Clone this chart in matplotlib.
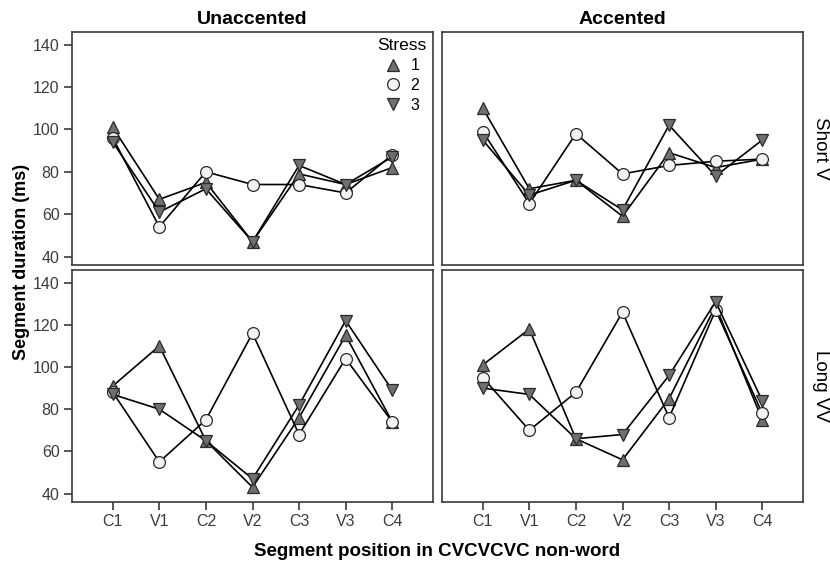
import matplotlib.pyplot as plt

plt.rcParams['font.family'] = ['Liberation Sans', 'DejaVu Sans']

segments = ['C1', 'V1', 'C2', 'V2', 'C3', 'V3', 'C4']
columns = ['Unaccented', 'Accented']
rows = ['Short V', 'Long VV']
stress_levels = ['1', '2', '3']

# values, (row, column) -> stress 1, 2, 3
short_unacc_1 = [101, 67, 75, 47, 79, 74, 82]
short_unacc_2 = [96, 54, 80, 74, 74, 70, 88]
short_unacc_3 = [94, 61, 72, 47, 83, 74, 87]

short_acc_1 = [110, 72, 76, 59, 89, 82, 86]
short_acc_2 = [99, 65, 98, 79, 83, 85, 86]
short_acc_3 = [95, 69, 76, 62, 102, 78, 95]

long_unacc_1 = [91, 110, 65, 43, 76, 115, 74]
long_unacc_2 = [88, 55, 75, 116, 68, 104, 74]
long_unacc_3 = [87, 80, 65, 47, 82, 122, 89]

long_acc_1 = [101, 118, 66, 56, 85, 129, 75]
long_acc_2 = [95, 70, 88, 126, 76, 127, 78]
long_acc_3 = [90, 87, 66, 68, 96, 131, 84]

data = {
    (0, 0): [short_unacc_1, short_unacc_2, short_unacc_3],
    (0, 1): [short_acc_1, short_acc_2, short_acc_3],
    (1, 0): [long_unacc_1, long_unacc_2, long_unacc_3],
    (1, 1): [long_acc_1, long_acc_2, long_acc_3],
}

markers = ['^', 'o', 'v']
fills = ['#6f6f6f', '#f2f2f2', '#6f6f6f']
edge = '#2a2a2a'

W, H = 830, 564
fig = plt.figure(figsize=(W / 100, H / 100), dpi=100)

col_x = [72, 442]
col_w = 361
row_top = [32, 270]
row_h = [233, 232]

x = list(range(1, len(segments) + 1))

for r in range(2):
    for c in range(2):
        left = col_x[c] / W
        bottom = (H - row_top[r] - row_h[r]) / H
        ax = fig.add_axes([left, bottom, col_w / W, row_h[r] / H])
        for s in range(3):
            ax.plot(x, data[(r, c)][s], color='black', lw=1.2,
                    marker=markers[s], markersize=8.5, markerfacecolor=fills[s],
                    markeredgecolor=edge, markeredgewidth=0.9,
                    label=stress_levels[s], zorder=3)
        ax.set_xlim(0.125, 7.875)
        ax.set_ylim(36, 146)
        ax.set_yticks([40, 60, 80, 100, 120, 140])
        ax.set_xticks(x)
        ax.set_xticklabels(segments)
        for sp in ax.spines.values():
            sp.set_color('#3a3a3a')
            sp.set_linewidth(1.2)
        ax.tick_params(direction='out', length=6, width=1.2, color='#3a3a3a',
                       labelsize=11.5, labelcolor='#3c3c3c', pad=3)
        if c == 1:
            ax.tick_params(axis='y', left=False, labelleft=False)
        if r == 0:
            ax.tick_params(axis='x', bottom=False, labelbottom=False)
            ax.set_title(columns[c], fontsize=14, fontweight='bold', pad=6)
        if c == 1:
            ax.text(1.025, 0.5, rows[r], transform=ax.transAxes, rotation=-90,
                    ha='left', va='center', fontsize=13.5)
        if r == 0 and c == 0:
            leg = ax.legend(title='Stress', loc='upper right', frameon=False,
                            fontsize=11.5, title_fontsize=12.5, handlelength=1.0,
                            handletextpad=0.6, labelspacing=0.3,
                            borderaxespad=0.1, borderpad=0.3)
            for h in leg.legend_handles:
                h.set_linestyle('')

fig.text(0.5 * (72 + 803) / W, 1 - 551 / H, 'Segment position in CVCVCVC non-word',
         ha='center', va='center', fontsize=13.5, fontweight='bold')
fig.text(22 / W, 1 - 262 / H, 'Segment duration (ms)', rotation=90,
         ha='center', va='center', fontsize=13, fontweight='bold')

fig.savefig('out.png', dpi=100)
